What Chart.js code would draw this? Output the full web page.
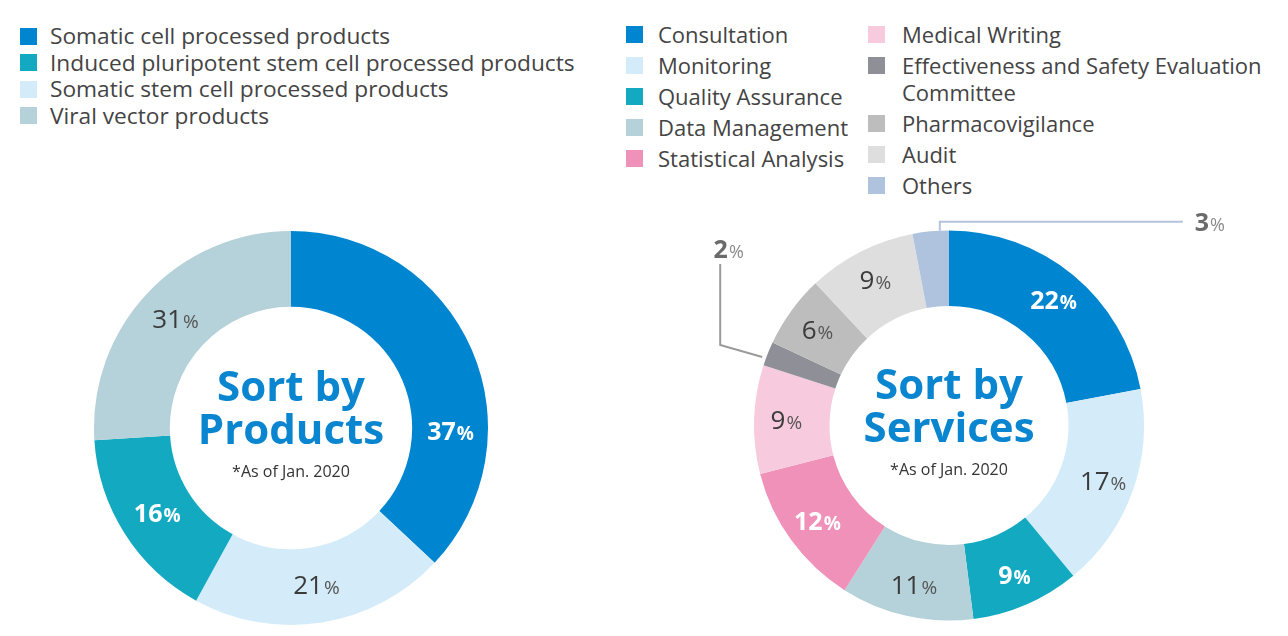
<!DOCTYPE html>
<html>
<head>
<meta charset="utf-8">
<script src="https://cdn.jsdelivr.net/npm/chart.js@4.4.1/dist/chart.umd.min.js"></script>
<style>
html, body { margin: 0; padding: 0; background: #fff; overflow: hidden; width: 1288px; height: 636px; }
body { position: relative; font-family: 'Open Sans', sans-serif; color: #444; }
.legend { position: absolute; list-style: none; margin: 0; padding: 0; font-size: 22px; }
.legend li { position: relative; line-height: 27px; margin-bottom: 4px; }
.legend li .box { position: absolute; left: 0; top: 5px; width: 17px; height: 17px; }
#legend-products { left: 20px; top: 23px; font-size: 22.7px; }
#legend-products li { padding-left: 30px; line-height: 26.5px; margin-bottom: 0; }
#legend-products li .box { top: 4.5px; }
#legend-services-1 { left: 626px; top: 21px; }
#legend-services-1 li { padding-left: 32px; }
#legend-services-2 { left: 868px; top: 21px; width: 405px; }
#legend-services-2 li { padding-left: 34px; }
canvas { position: absolute; }
#products { left: 91px; top: 228px; }
#services { left: 649px; top: 205px; }
</style>
</head>
<body>
<ul class="legend" id="legend-products"></ul>
<ul class="legend" id="legend-services-1"></ul>
<ul class="legend" id="legend-services-2"></ul>
<canvas id="products" width="400" height="400"></canvas>
<canvas id="services" width="600" height="431"></canvas>
<script>
// products, clockwise from 12 o'clock
const productLabels = ['Somatic cell processed products', 'Somatic stem cell processed products', 'Induced pluripotent stem cell processed products', 'Viral vector products'];
const productShares = [37, 21, 16, 26];          // slice sizes as drawn
const productPrinted = ['37', '21', '16', '31']; // numbers printed on the slices
const productColors = ['#0086d1', '#d4ecf9', '#12a9c1', '#b5d1d9'];
const productLegendOrder = [0, 2, 1, 3];

// services, clockwise from 12 o'clock
const serviceLabels = ['Consultation', 'Monitoring', 'Quality Assurance', 'Data Management', 'Statistical Analysis',
    'Medical Writing', 'Effectiveness and Safety Evaluation Committee', 'Pharmacovigilance', 'Audit', 'Others'];
const serviceShares = [22, 17, 9, 11, 12, 9, 2, 6, 9, 3];
const servicePrinted = ['22', '17', '9', '11', '12', '9', '2', '6', '9', '3'];
const serviceColors = ['#0086d1', '#d4ecf9', '#12a9c1', '#b5d1d9', '#ef91b8', '#f7cadd', '#8f9097', '#bdbdbd', '#dedede', '#afc3de'];

function fillLegend(id, labels, colors, idx) {
    const ul = document.getElementById(id);
    idx.forEach(i => {
        const li = document.createElement('li');
        li.innerHTML = '<span class="box" style="background:' + colors[i] + '"></span>' + labels[i];
        ul.appendChild(li);
    });
}
fillLegend('legend-products', productLabels, productColors, productLegendOrder);
fillLegend('legend-services-1', serviceLabels, serviceColors, [0, 1, 2, 3, 4]);
fillLegend('legend-services-2', serviceLabels, serviceColors, [5, 6, 7, 8, 9]);

const FONT = "'Open Sans', sans-serif";

// draws "37" big and "%" small side by side, centred on x,y
function drawPct(ctx, num, x, y, style, align) {
    let numFont, pctFont, numColor, pctColor;
    if (style === 'bold') {
        numFont = 'bold 25px ' + FONT; pctFont = 'bold 19px ' + FONT;
        numColor = '#fff'; pctColor = '#fff';
    } else if (style === 'callout') {
        numFont = 'bold 25px ' + FONT; pctFont = '18px ' + FONT;
        numColor = '#6b6b6b'; pctColor = '#8a8a8a';
    } else {
        numFont = '26px ' + FONT; pctFont = '19px ' + FONT;
        numColor = '#3b3b3b'; pctColor = '#555';
    }
    ctx.font = numFont;
    const w1 = ctx.measureText(num).width;
    ctx.font = pctFont;
    const w2 = ctx.measureText('%').width;
    const left = align === 'left' ? x : x - (w1 + w2) / 2;
    const base = y + 9;
    ctx.textAlign = 'left';
    ctx.textBaseline = 'alphabetic';
    ctx.font = numFont; ctx.fillStyle = numColor;
    ctx.fillText(num, left, base);
    ctx.font = pctFont; ctx.fillStyle = pctColor;
    ctx.fillText('%', left + w1 + 1, base);
}

const sliceLabels = {
    id: 'sliceLabels',
    afterDatasetsDraw(chart, args, opts) {
        const ctx = chart.ctx;
        const arcs = chart.getDatasetMeta(0).data;
        ctx.save();
        arcs.forEach((arc, i) => {
            const p = arc.getProps(['x', 'y', 'startAngle', 'endAngle', 'innerRadius', 'outerRadius']);
            const num = opts.printed[i];
            if (opts.callouts && opts.callouts[i]) {
                const c = opts.callouts[i];
                const a = p.startAngle + (p.endAngle - p.startAngle) * c.at;
                const sx = p.x + Math.cos(a) * (p.outerRadius + c.gap);
                const sy = p.y + Math.sin(a) * (p.outerRadius + c.gap);
                ctx.strokeStyle = c.color;
                ctx.lineWidth = 2;
                ctx.beginPath();
                ctx.moveTo(sx, sy);
                let px = sx, py = sy;
                c.path.forEach(d => { px += d[0]; py += d[1]; ctx.lineTo(px, py); });
                ctx.stroke();
                drawPct(ctx, num, px + c.label[0], py + c.label[1], 'callout', c.align);
                return;
            }
            let a = (p.startAngle + p.endAngle) / 2;
            if (opts.angles && opts.angles[i] != null) a = (opts.angles[i] - 90) * Math.PI / 180;
            const r = (p.innerRadius + p.outerRadius) / 2 + (opts.rOffset || 0);
            drawPct(ctx, num, p.x + Math.cos(a) * r, p.y + Math.sin(a) * r, opts.bold.includes(i) ? 'bold' : 'plain');
        });
        ctx.restore();
    }
};

const centerText = {
    id: 'centerText',
    afterDraw(chart, args, opts) {
        const ctx = chart.ctx;
        const area = chart.chartArea;
        const cx = (area.left + area.right) / 2;
        const cy = (area.top + area.bottom) / 2;
        ctx.save();
        ctx.textAlign = 'center';
        ctx.textBaseline = 'alphabetic';
        ctx.fillStyle = '#0a85cf';
        ctx.font = 'bold 42px ' + FONT;
        ctx.fillText(opts.lines[0], cx, cy - 27);
        ctx.fillText(opts.lines[1], cx, cy + 16);
        ctx.fillStyle = '#333';
        ctx.font = '16px ' + FONT;
        ctx.fillText(opts.note, cx, cy + 49);
        ctx.restore();
    }
};

new Chart(document.getElementById('products'), {
    type: 'doughnut',
    data: {
        labels: productLabels,
        datasets: [{ data: productShares, backgroundColor: productColors, borderWidth: 0 }]
    },
    options: {
        responsive: false,
        animation: false,
        radius: 197,
        cutout: 123,
        events: [],
        plugins: {
            legend: { display: false },
            tooltip: { enabled: false },
            sliceLabels: { printed: productPrinted, bold: [0, 2], angles: [91, null, null, null] },
            centerText: { lines: ['Sort by', 'Products'], note: '*As of Jan. 2020' }
        }
    },
    plugins: [sliceLabels, centerText]
});

new Chart(document.getElementById('services'), {
    type: 'doughnut',
    data: {
        labels: serviceLabels,
        datasets: [{ data: serviceShares, backgroundColor: serviceColors, borderWidth: 0 }]
    },
    options: {
        responsive: false,
        animation: false,
        radius: 195,
        cutout: 129,
        events: [],
        layout: { padding: { top: 10 } },
        plugins: {
            legend: { display: false },
            tooltip: { enabled: false },
            sliceLabels: {
                printed: servicePrinted,
                bold: [0, 2, 4],
                rOffset: 6,
                callouts: {
                    6: { at: 0.3, gap: 4, color: '#9a9a9a', path: [[-42, -12], [0, -81]], label: [8, -15] },
                    9: { at: 0.75, gap: 0, color: '#b3c4dc', path: [[0, -9], [243, 0]], label: [12, 0], align: 'left' }
                }
            },
            centerText: { lines: ['Sort by', 'Services'], note: '*As of Jan. 2020' }
        }
    },
    plugins: [sliceLabels, centerText]
});
</script>
</body>
</html>
